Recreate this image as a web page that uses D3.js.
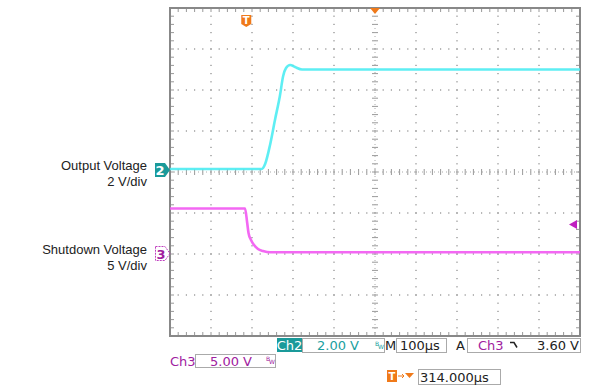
<!DOCTYPE html>
<html>
<head>
<meta charset="utf-8">
<script src="https://cdn.jsdelivr.net/npm/d3@7"></script>
<style>
  body { margin: 0; background: #fff; }
  svg { display: block; }
  .lbl { font-family: "Liberation Sans", Arial, sans-serif; font-size: 13px; fill: #222; }
  .st { font-family: "DejaVu Sans", sans-serif; font-size: 13px; }
</style>
</head>
<body>
<svg width="591" height="388"></svg>
<script>
// time in µs from left edge of screen (100 µs/div, 10 div)
var ch2Time  = [0, 224, 232, 244, 256, 268, 276, 283, 293, 305, 322, 1000];
var ch2Volts = [0.15, 0.15, 0.39, 1.32, 2.54, 3.71, 4.68, 5.07, 5.22, 5.12, 5.0, 5.0];

var ch3Time  = [0, 183, 188, 191.5, 197.6, 205, 214.6, 226.8, 244, 1000];
var ch3Volts = [5.55, 5.55, 3.9, 2.56, 1.71, 1.10, 0.61, 0.37, 0.21, 0.21];

var triggerTime = 186;   // 314 µs left of centre
var triggerLevel = 3.6;  // Ch3, volts

var svg = d3.select("svg");
var pL = 170, pR = 580, pT = 8, pB = 336;
var div = 41;

var x = d3.scaleLinear().domain([0, 1000]).range([pL, pR]);
var y2 = d3.scaleLinear().domain([-8, 8]).range([pB, pT]);    // 2 V/div, ground at centre
var y3 = d3.scaleLinear().domain([-10, 30]).range([pB, pT]);  // 5 V/div, ground 2 div below centre

var grid = svg.append("g");
var minor = div / 5;
var cx = x(500), cy = y2(0);

// dotted graticule
d3.range(1, 10).forEach(function(i) {
  var gx = pL + i * div;
  if (i == 5) return;
  d3.range(pT + minor, pB, minor).forEach(function(py) {
    grid.append("rect").attr("x", gx - 0.6).attr("y", py - 0.6).attr("width", 1.2).attr("height", 1.2).attr("fill", "#888");
  });
});
d3.range(1, 8).forEach(function(i) {
  var gy = pT + i * div;
  if (i == 4) return;
  d3.range(pL + minor, pR, minor).forEach(function(px) {
    grid.append("rect").attr("x", px - 0.6).attr("y", gy - 0.6).attr("width", 1.2).attr("height", 1.2).attr("fill", "#888");
  });
});

// centre cross ticks
d3.range(pT + minor, pB, minor).forEach(function(py) {
  grid.append("line").attr("x1", cx - 3).attr("x2", cx + 3).attr("y1", py).attr("y2", py).attr("stroke", "#999");
});
d3.range(pL + minor, pR, minor).forEach(function(px) {
  grid.append("line").attr("x1", px).attr("x2", px).attr("y1", cy - 3).attr("y2", cy + 3).attr("stroke", "#999");
});
grid.append("line").attr("x1", cx).attr("x2", cx).attr("y1", pT).attr("y2", pB).attr("stroke", "#aaa").attr("stroke-dasharray", "1,3");
grid.append("line").attr("x1", pL).attr("x2", pR).attr("y1", cy).attr("y2", cy).attr("stroke", "#aaa").attr("stroke-dasharray", "1,3");

// border ticks
d3.range(pL + minor, pR, minor).forEach(function(px) {
  grid.append("line").attr("x1", px).attr("x2", px).attr("y1", pT).attr("y2", pT + 4).attr("stroke", "#999");
  grid.append("line").attr("x1", px).attr("x2", px).attr("y1", pB - 4).attr("y2", pB).attr("stroke", "#999");
});
d3.range(pT + minor, pB, minor).forEach(function(py) {
  grid.append("line").attr("x1", pL).attr("x2", pL + 4).attr("y1", py).attr("y2", py).attr("stroke", "#999");
  grid.append("line").attr("x1", pR - 4).attr("x2", pR).attr("y1", py).attr("y2", py).attr("stroke", "#999");
});

grid.append("rect").attr("x", pL).attr("y", pT).attr("width", pR - pL).attr("height", pB - pT)
  .attr("fill", "none").attr("stroke", "#888").attr("stroke-width", 2);

// traces
var ch2 = ch2Time.map(function(t, i) { return [t, ch2Volts[i]]; });
var ch3 = ch3Time.map(function(t, i) { return [t, ch3Volts[i]]; });

svg.append("path").datum(ch3)
  .attr("d", d3.line().x(d => x(d[0])).y(d => y3(d[1])).curve(d3.curveMonotoneX))
  .attr("fill", "none").attr("stroke", "#f258f2").attr("stroke-width", 2.6).attr("stroke-opacity", 0.9);

svg.append("path").datum(ch2)
  .attr("d", d3.line().x(d => x(d[0])).y(d => y2(d[1])).curve(d3.curveMonotoneX))
  .attr("fill", "none").attr("stroke", "#4cecf2").attr("stroke-width", 2.6).attr("stroke-opacity", 0.9);

// trigger markers
var tx = x(triggerTime);
var tm = svg.append("g").attr("transform", "translate(" + tx + ",15)");
tm.append("path").attr("d", "M-5,0 H5 V9 L0,12 L-5,9 Z").attr("fill", "#f07a1a");
tm.append("text").attr("x", 0).attr("y", 9).attr("text-anchor", "middle").attr("fill", "#fff")
  .style("font", "bold 10px 'DejaVu Sans'").text("T");
svg.append("path").attr("d", "M" + (cx - 5) + "," + pT + " L" + (cx + 5) + "," + pT + " L" + cx + "," + (pT + 6) + " Z").attr("fill", "#f07a1a");

var ty = y3(triggerLevel);
svg.append("path").attr("d", "M569," + ty + " L577," + (ty - 4.5) + " L577," + (ty + 4.5) + " Z").attr("fill", "#c020c0");

// channel ground markers
var g2 = y2(0) - 2;
svg.append("path").attr("d", "M155," + (g2 - 7) + " H165 L170," + g2 + " L165," + (g2 + 7) + " H155 Z").attr("fill", "#1a9a9a");
svg.append("text").attr("x", 160).attr("y", g2 + 5).attr("text-anchor", "middle").attr("fill", "#fff")
  .style("font", "bold 13px 'DejaVu Sans'").text("2");

var g3 = y3(0) - 0.5;
svg.append("path").attr("d", "M155.5," + (g3 - 7) + " H165 L170," + g3 + " L165," + (g3 + 7) + " H155.5 Z")
  .attr("fill", "none").attr("stroke", "#c040c0").attr("stroke-dasharray", "2,1");
svg.append("text").attr("x", 161).attr("y", g3 + 5).attr("text-anchor", "middle").attr("fill", "#a020a0")
  .style("font", "bold 13px 'DejaVu Sans'").text("3");

// channel labels
svg.append("text").attr("class", "lbl").attr("x", 147).attr("y", 170).attr("text-anchor", "end").text("Output Voltage");
svg.append("text").attr("class", "lbl").attr("x", 147).attr("y", 186).attr("text-anchor", "end").text("2 V/div");
svg.append("text").attr("class", "lbl").attr("x", 147).attr("y", 254).attr("text-anchor", "end").text("Shutdown Voltage");
svg.append("text").attr("class", "lbl").attr("x", 147).attr("y", 270).attr("text-anchor", "end").text("5 V/div");

// status readout
function box(x0, y0, w, h) {
  svg.append("rect").attr("x", x0 + 0.5).attr("y", y0 + 0.5).attr("width", w).attr("height", h)
    .attr("fill", "#fff").attr("stroke", "#aaa");
}
function txt(x0, y0, s, c, anchor) {
  svg.append("text").attr("class", "st").attr("x", x0).attr("y", y0).attr("fill", c)
    .attr("text-anchor", anchor || "start").text(s);
}
function bw(x0, y0, c) {
  svg.append("text").attr("x", x0).attr("y", y0).attr("fill", c).style("font", "6px 'DejaVu Sans'").text("B");
  svg.append("text").attr("x", x0 + 3).attr("y", y0 + 3).attr("fill", c).style("font", "6px 'DejaVu Sans'").text("W");
}

svg.append("rect").attr("x", 277).attr("y", 338).attr("width", 25).attr("height", 14).attr("fill", "#1a9a9a");
txt(289.5, 350, "Ch2", "#fff", "middle");
box(302, 338, 82, 14);
txt(317, 350, "2.00 V", "#1aa0a0");
bw(375, 346, "#1aa0a0");
txt(385, 350, "M", "#222");
box(396, 338, 50, 14);
txt(400, 350, "100µs", "#222");
txt(456, 350, "A", "#222");
box(467, 338, 113, 14);
txt(478, 350, "Ch3", "#a020a0");
svg.append("path").attr("d", "M510,342.5 H514 L517,347.5").attr("fill", "none").attr("stroke", "#222").attr("stroke-width", 1.5);
txt(579, 350, "3.60 V", "#222", "end");

txt(170, 366, "Ch3", "#a020a0");
box(195, 354, 80, 13);
txt(210, 366, "5.00 V", "#a020a0");
bw(266, 361, "#a020a0");

var tb = svg.append("g").attr("transform", "translate(387,370)");
tb.append("rect").attr("width", 10).attr("height", 12).attr("fill", "#f07a1a");
tb.append("text").attr("x", 5).attr("y", 10).attr("text-anchor", "middle").attr("fill", "#fff")
  .style("font", "bold 10px 'DejaVu Sans'").text("T");
tb.append("path").attr("d", "M11,6 H17 M15,4 L17,6 L15,8").attr("stroke", "#f07a1a").attr("fill", "none");
tb.append("path").attr("d", "M18,3 H27 L22.5,8 Z").attr("fill", "#f07a1a");
box(418, 369, 82, 15);
txt(420, 382, "314.000µs", "#222");
</script>
</body>
</html>
